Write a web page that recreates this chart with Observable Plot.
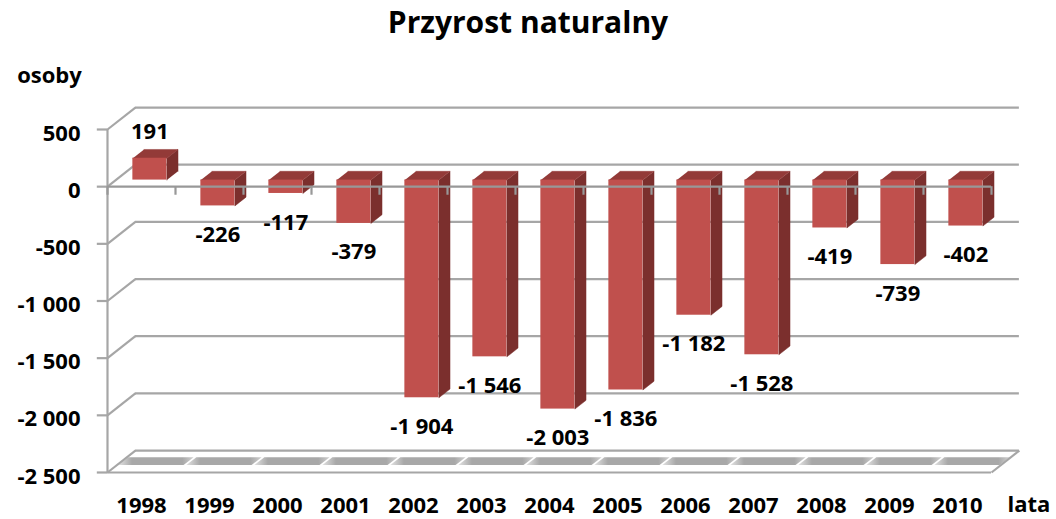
<!DOCTYPE html>
<html><head><meta charset="utf-8">
<script src="https://cdn.jsdelivr.net/npm/d3@7"></script>
<script src="https://cdn.jsdelivr.net/npm/@observablehq/plot@0.6"></script>
<style>
body{margin:0;background:#fff;font-family:"Open Sans",sans-serif;}
#title{width:1056px;height:44px;line-height:44px;text-align:center;font-weight:bold;font-size:30px;color:#000;}
</style></head><body>
<div id="title">Przyrost naturalny</div>
<div id="chart"></div>
<script>
// ---- data ----
const years = ["1998","1999","2000","2001","2002","2003","2004","2005","2006","2007","2008","2009","2010"];
const values = [191,-226,-117,-379,-1904,-1546,-2003,-1836,-1182,-1528,-419,-739,-402];
const yTicks = [500,0,-500,-1000,-1500,-2000,-2500];
const yLabel = "osoby";
const xLabel = "lata";

// ---- derived ----
const n = years.length;
const yMin = d3.min(yTicks), yMax = d3.max(yTicks);
const DX = 0.41, DY = 192;      // depth vector (data units)
const T0 = 0.3, T1 = 0.7;       // bar depth span
const BW0 = 0.25, BW1 = 0.75;   // bar span inside category
const fmt = d3.formatLocale({decimal: ",", thousands: " ", grouping: [3], currency: ["", ""], minus: "-"}).format(",");

const bars = years.map((year, i) => ({year, i, value: values[i]}));

const sidePts = [], topPts = [], floorPts = [];
for (const b of bars) {
  const xb = b.i + BW1 + T0 * DX, xa = b.i + BW0 + T0 * DX;
  const y0 = T0 * DY, yv = b.value + T0 * DY;
  const ddx = (T1 - T0) * DX, ddy = (T1 - T0) * DY;
  const yt = Math.max(y0, yv);
  [[xb, y0], [xb, yv], [xb + ddx, yv + ddy], [xb + ddx, y0 + ddy]].forEach(([x, y]) => sidePts.push({id: b.i, x, y}));
  [[xa, yt], [xb, yt], [xb + ddx, yt + ddy], [xa + ddx, yt + ddy]].forEach(([x, y]) => topPts.push({id: b.i, x, y}));
}
for (let i = 0; i < n; i++) {
  const ta = 0.34, tb = 0.7;
  [[i + 0.02 + ta * DX, yMin + ta * DY], [i + 0.98 + ta * DX, yMin + ta * DY],
   [i + 0.98 + tb * DX, yMin + tb * DY], [i + 0.02 + tb * DX, yMin + tb * DY]]
    .forEach(([x, y]) => floorPts.push({id: i, x, y}));
}

const grid = "#a6a6a6";
const font = {fontFamily: "Open Sans", fontWeight: "bold", fontSize: 22, fill: "#000"};

const defs = () => {
  const ns = "http://www.w3.org/2000/svg";
  const d = document.createElementNS(ns, "defs");
  const g = document.createElementNS(ns, "linearGradient");
  g.setAttribute("id", "floorGrad");
  g.setAttribute("x1", "0"); g.setAttribute("x2", "1"); g.setAttribute("y1", "0"); g.setAttribute("y2", "0");
  [["0", "#e2e2e2"], ["0.18", "#a8a8a8"], ["0.85", "#a8a8a8"], ["1", "#d0d0d0"]].forEach(([o, c]) => {
    const s = document.createElementNS(ns, "stop");
    s.setAttribute("offset", o); s.setAttribute("stop-color", c);
    g.appendChild(s);
  });
  d.appendChild(g);
  return d;
};

const chart = Plot.plot({
  width: 1056,
  height: 475,
  marginTop: 85,
  marginBottom: 47,
  marginLeft: 107,
  marginRight: 65,
  x: {type: "linear", domain: [0, n], axis: null},
  y: {type: "linear", domain: [yMin, yMax], axis: null},
  style: {background: "#fff", overflow: "visible"},
  marks: [
    defs,
    // floor band
    Plot.line(floorPts, {x: "x", y: "y", z: "id", fill: "url(#floorGrad)", stroke: "none"}),
    // back wall grid lines
    Plot.ruleY(yTicks, {y: d => d + DY, x1: () => DX, x2: () => n + DX, stroke: grid, strokeWidth: 2.2}),
    // slanted connectors on side wall
    Plot.link(yTicks, {x1: () => 0, y1: d => d, x2: () => DX, y2: d => d + DY, stroke: grid, strokeWidth: 2.2}),
    // floor front edge and right edge
    Plot.ruleY([yMin], {y: d => d, x1: () => 0, x2: () => n, stroke: grid, strokeWidth: 2.2}),
    Plot.link([yMin], {x1: () => n, y1: d => d, x2: () => n + DX, y2: d => d + DY, stroke: grid, strokeWidth: 2.2}),
    // value axis line and ticks
    Plot.ruleX([0], {x: d => d, y1: () => yMin, y2: () => yMax, stroke: grid, strokeWidth: 2.2}),
    Plot.ruleY(yTicks, {y: d => d, x1: () => 0, x2: () => -0.15, stroke: grid, strokeWidth: 2.2}),
    // bars
    Plot.line(sidePts, {x: "x", y: "y", z: "id", fill: "#7b2f2d", stroke: "#7b2f2d", strokeWidth: 0.5}),
    Plot.line(topPts, {x: "x", y: "y", z: "id", fill: "#933a38", stroke: "#933a38", strokeWidth: 0.5}),
    Plot.rect(bars, {x1: d => d.i + BW0 + T0 * DX, x2: d => d.i + BW1 + T0 * DX, y1: () => T0 * DY, y2: d => d.value + T0 * DY, fill: "#C0504D"}),
    // category axis at zero (front)
    Plot.ruleY([0], {y: d => d, x1: () => 0, x2: () => n, stroke: "#989898", strokeWidth: 2.2}),
    Plot.ruleX(d3.range(n + 1), {x: d => d, y1: () => 0, y2: () => -75, stroke: "#989898", strokeWidth: 2.2}),
    // y tick labels
    Plot.text(yTicks, {x: () => 0, y: d => d, text: d => fmt(d), textAnchor: "end", dx: -27, dy: 4, ...font}),
    // x tick labels
    Plot.text(bars, {x: d => d.i + 0.5, y: () => yMin, text: "year", dy: 33, ...font}),
    // value labels: above positive bars, below negative bars
    Plot.text(bars.filter(d => d.value >= 0), {x: d => d.i + 0.5 + T0 * DX, y: d => d.value + T0 * DY, text: d => fmt(d.value), dy: -26, ...font}),
    Plot.text(bars.filter(d => d.value < 0), {x: d => d.i + 0.5 + T0 * DX, y: d => d.value + T0 * DY, text: d => fmt(d.value), dy: 29, ...font}),
    // axis titles
    Plot.text([yLabel], {frameAnchor: "top-left", text: d => d, textAnchor: "middle", lineAnchor: "middle", dx: -58, dy: -54, ...font}),
    Plot.text([xLabel], {frameAnchor: "bottom-right", text: d => d, textAnchor: "start", lineAnchor: "middle", dx: 16, dy: 32, ...font})
  ]
});
document.getElementById("chart").appendChild(chart);
</script>
</body></html>
